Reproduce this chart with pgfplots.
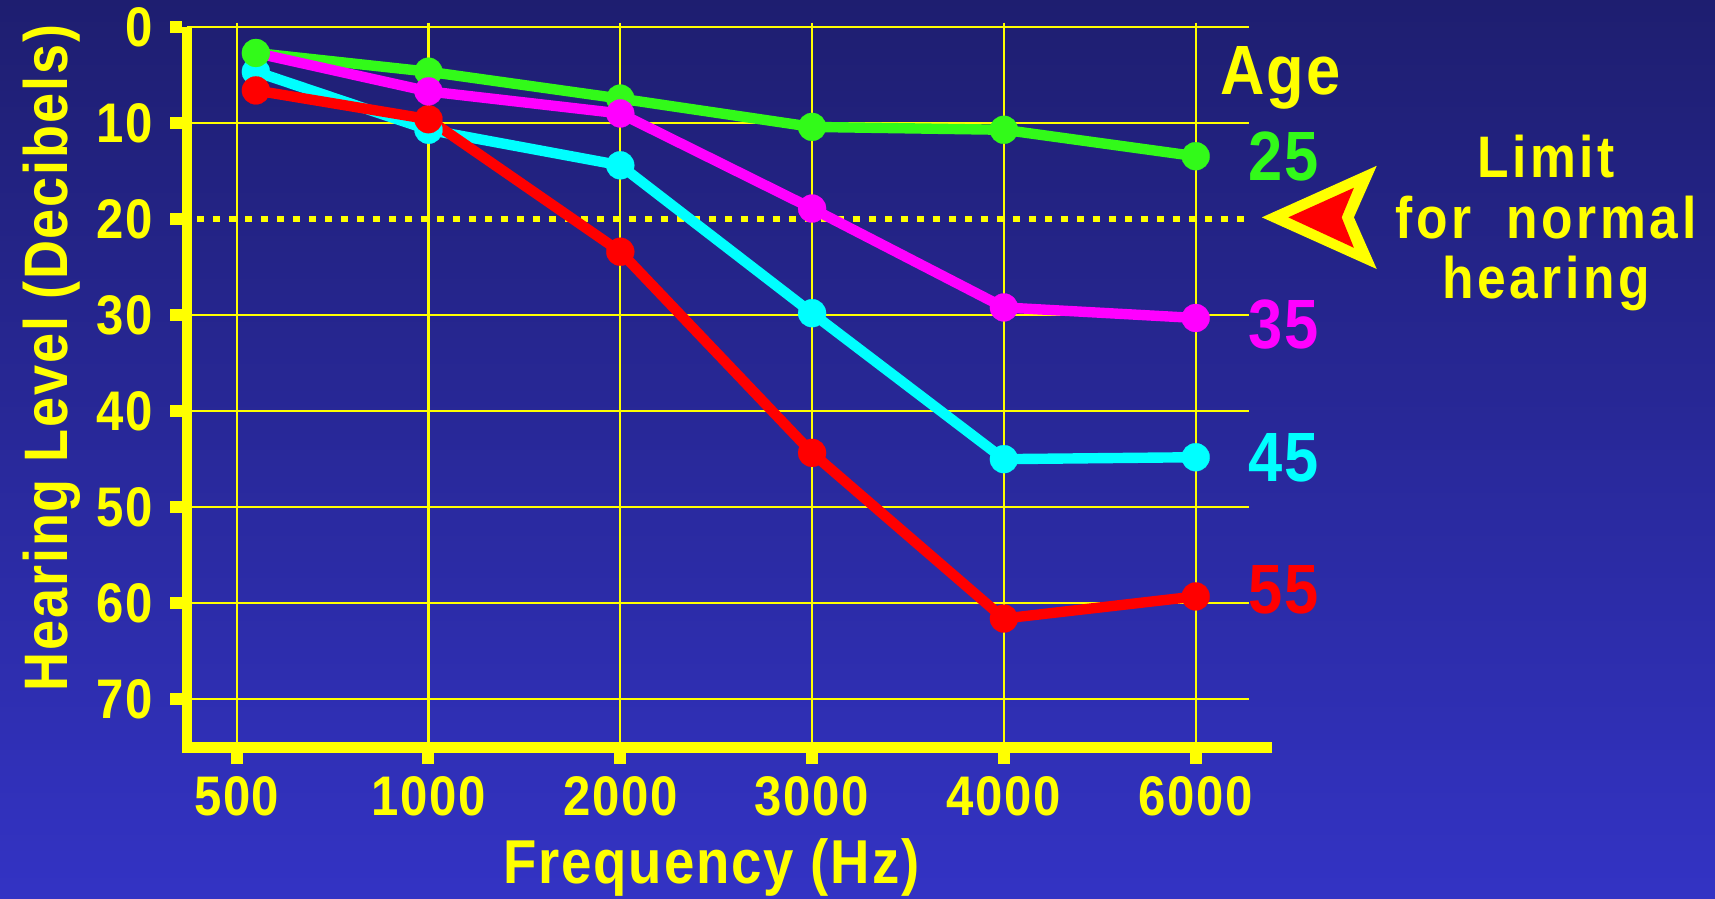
\documentclass[border=0pt]{standalone}
\usepackage{pgfplots}
\pgfplotsset{compat=1.18}
\usepackage{fontspec}
\newfontfamily\chartfont{Liberation Sans}[FakeStretch=0.88,LetterSpace=3]
\newfontfamily\limitfont{Liberation Sans}[FakeStretch=0.88,LetterSpace=6]
\definecolor{bgtop}{RGB}{30,30,112}
\definecolor{bgbot}{RGB}{51,51,196}
\definecolor{ayellow}{RGB}{255,255,0}
\definecolor{agreen}{RGB}{50,250,25}
\definecolor{amagenta}{RGB}{255,0,255}
\definecolor{acyan}{RGB}{0,255,255}
\definecolor{ared}{RGB}{255,0,0}

\begin{document}
\begin{tikzpicture}
\fill[top color=bgtop,bottom color=bgbot] (0,0) rectangle (857.5pt,449.5pt);
\useasboundingbox (0,0) rectangle (857.5pt,449.5pt);
\begin{axis}[
    at={(93.5pt,75.9pt)}, anchor=south west,
    scale only axis, width=542.7pt, height=360.08pt,
    xmin=-0.259, xmax=5.40,
    ymin=0, ymax=75, y dir=reverse,
    clip=false,
    axis line style={draw=none},
    major tick length=0pt,
    tick style={draw=none},
    xtick={0,1,2,3,4,5},
    xticklabels={500,1000,2000,3000,4000,6000},
    ytick={0,10,20,30,40,50,60,70},
    yticklabels={0,10,20,30,40,50,60,70},
    tick label style={text=ayellow, inner sep=0pt,
        font=\chartfont\bfseries\fontsize{27.9}{30}\selectfont},
    xticklabel style={anchor=base, yshift=-33.9pt},
    yticklabel style={anchor=east, xshift=-17pt},
    /pgf/number format/assume math mode=true,
    every axis plot/.append style={line width=5.2pt, line join=round},
]
% grid
\pgfplotsinvokeforeach{0,1,2,3,4,5}{
    \draw[ayellow, line width=1.1pt] (axis cs:#1,-0.45) -- (axis cs:#1,75);
}
\pgfplotsinvokeforeach{0,10,30,40,50,60,70}{
    \draw[ayellow, line width=1.1pt] (axis cs:-0.259,#1) -- (axis cs:5.28,#1);
}
\draw[ayellow, line width=3pt, dash pattern=on 3.4pt off 4.6pt]
    (axis cs:-0.207,20) -- (axis cs:5.278,20);
% axis lines and stubs
\draw[ayellow, line width=5.4pt] (axis cs:5.40,75) -- (axis cs:-0.259,75) -- (axis cs:-0.259,0);
\pgfplotsinvokeforeach{0,10,20,30,40,50,60,70}{
    \draw[ayellow, line width=6pt] ([xshift=-2.7pt]axis cs:-0.259,#1) -- ([xshift=-8.5pt]axis cs:-0.259,#1);
}
\pgfplotsinvokeforeach{0,1,2,3,4,5}{
    \draw[ayellow, line width=6pt] ([yshift=-2.7pt]axis cs:#1,75) -- ([yshift=-8.5pt]axis cs:#1,75);
}

% age 45
\addplot[acyan, mark=*, mark size=7pt, mark options={line width=0.1pt}]
    coordinates {(0.1,4.65) (1,10.7) (2,14.4) (3,29.8) (4,45.0) (5,44.8)};
% age 55
\addplot[ared, mark=*, mark size=7pt, mark options={line width=0.1pt}]
    coordinates {(0.1,6.6) (1,9.6) (2,23.4) (3,44.35) (4,61.6) (5,59.3)};
% age 25
\addplot[agreen, mark=*, mark size=7pt, mark options={line width=0.1pt}]
    coordinates {(0.1,2.7) (1,4.65) (2,7.45) (3,10.4) (4,10.7) (5,13.45)};
% age 35
\addplot[amagenta, mark=*, mark size=7pt, mark options={line width=0.1pt}, mark indices={2,3,4,5,6}]
    coordinates {(0.156,2.95) (1,6.7) (2,9.0) (3,18.9) (4,29.2) (5,30.3)};

% labels
\node[anchor=base west, text=ayellow, font=\chartfont\bfseries\fontsize{34.9}{36}\selectfont]
    at (axis cs:5.091,7.0) {Age};
\node[anchor=base west, text=agreen, font=\chartfont\bfseries\fontsize{34.9}{36}\selectfont]
    at (axis cs:5.236,15.93) {25};
\node[anchor=base west, text=amagenta, font=\chartfont\bfseries\fontsize{34.9}{36}\selectfont]
    at (axis cs:5.236,33.43) {35};
\node[anchor=base west, text=acyan, font=\chartfont\bfseries\fontsize{34.9}{36}\selectfont]
    at (axis cs:5.236,47.36) {45};
\node[anchor=base west, text=ared, font=\chartfont\bfseries\fontsize{34.9}{36}\selectfont]
    at (axis cs:5.236,61.03) {55};

% limit arrow and text
\fill[ayellow] (axis cs:5.345,19.82) -- (axis cs:5.944,14.45) -- (axis cs:5.825,19.82)
    -- (axis cs:5.944,25.2) -- cycle;
\fill[ared] (axis cs:5.483,19.82) -- (axis cs:5.825,16.74) -- (axis cs:5.761,19.82)
    -- (axis cs:5.825,22.99) -- cycle;
\node[anchor=base, text=ayellow, font=\limitfont\bfseries\fontsize{29.3}{30}\selectfont]
    at (axis cs:6.826,15.65) {Limit};
\node[anchor=base, text=ayellow, font=\limitfont\bfseries\fontsize{29.3}{30}\selectfont]
    at (axis cs:6.826,22.0) {for \ normal};
\node[anchor=base, text=ayellow, font=\limitfont\bfseries\fontsize{29.3}{30}\selectfont]
    at (axis cs:6.826,28.25) {hearing};

% axis titles
\node[rotate=90, anchor=base, text=ayellow, font=\chartfont\bfseries\fontsize{30.7}{32}\selectfont]
    at (axis cs:-0.8796,34.47) {Hearing Level (Decibels)};
\node[anchor=base, text=ayellow, font=\chartfont\bfseries\fontsize{31}{32}\selectfont]
    at (axis cs:2.475,89.15) {Frequency (Hz)};
\end{axis}
\end{tikzpicture}
\end{document}
